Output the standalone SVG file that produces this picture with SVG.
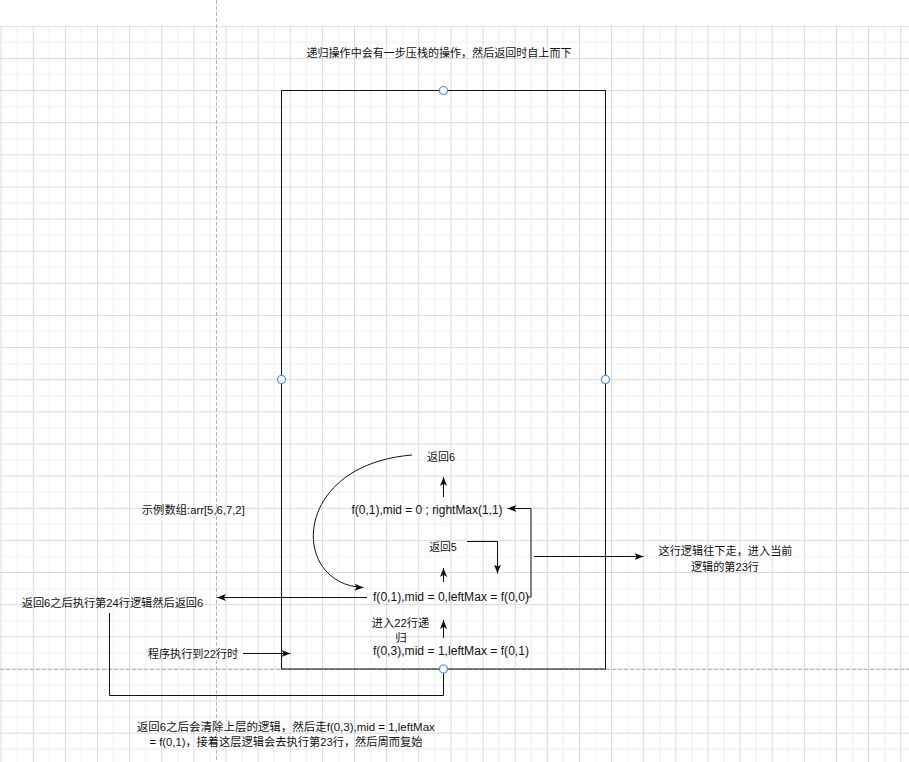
<svg xmlns="http://www.w3.org/2000/svg" width="909" height="762" viewBox="0 0 909 762">
<style>
text{font-family:"Liberation Sans","Noto Sans CJK SC",sans-serif;font-size:11.5px;fill:#111;dominant-baseline:central;text-anchor:middle}
.f{font-size:12px}
.ln{fill:none;stroke:#111;stroke-width:1}
.arr{marker-end:url(#ah)}
.hd{fill:#fff;stroke:#3d8ee8;stroke-width:1.2}
.dash{stroke:#b5b5b5;stroke-width:1;stroke-dasharray:4 2;fill:none}
</style>
<defs>
<pattern id="grid" patternUnits="userSpaceOnUse" x="0.6" y="25.8" width="32.13" height="32.13">
<rect x="16.06" y="0" width="1" height="32.13" fill="#eeeeee"/>
<rect x="0" y="16.06" width="32.13" height="1" fill="#eeeeee"/>
<rect x="0" y="0" width="1" height="32.13" fill="#dadada"/>
<rect x="0" y="0" width="32.13" height="1" fill="#dadada"/>
</pattern>
<marker id="ah" viewBox="0 0 9 7" refX="9" refY="3.5" markerWidth="9" markerHeight="7" markerUnits="userSpaceOnUse" orient="auto">
<path d="M0,0 L9,3.5 L0,7 L2.2,3.5 Z" fill="#111"/>
</marker>
</defs>
<rect x="0" y="0" width="909" height="762" fill="#fff"/>
<rect x="0" y="26" width="909" height="736" fill="url(#grid)"/>
<line class="dash" x1="216.5" y1="0" x2="216.5" y2="762"/>
<line class="dash" x1="0" y1="669.5" x2="909" y2="669.5"/>

<g id="connectors">
<path class="ln arr" d="M443.5,497 L443.5,477"/>
<path class="ln arr" d="M527,597 L531,597 L531,508.5 L507.5,508.5"/>
<path class="ln arr" d="M467,541.5 L497.5,541.5 L497.5,573.5"/>
<path class="ln arr" d="M443.5,582 L443.5,568"/>
<path class="ln arr" d="M412,455 C290,465 290,585 363.5,587.5"/>
<path class="ln arr" d="M367,597.5 L217,597.5"/>
<path class="ln arr" d="M443.5,638 L443.5,620"/>
<path class="ln arr" d="M243,653.5 L290.5,653.5"/>
<path class="ln" d="M443.5,669 L443.5,695.5 L109.5,695.5 L109.5,613"/>
<path class="ln arr" d="M534,556.5 L643.5,556.5"/>
</g>

<g id="stack-box">
<rect x="281.5" y="90.5" width="324" height="578.5" fill="none" stroke="#111" stroke-width="1"/>
<circle class="hd" cx="443.5" cy="90.5" r="4"/>
<circle class="hd" cx="281.5" cy="379.5" r="4"/>
<circle class="hd" cx="605.5" cy="379.5" r="4"/>
<circle class="hd" cx="443.5" cy="669" r="4"/>
</g>

<g id="title"><text x="439" y="53" textLength="265" lengthAdjust="spacingAndGlyphs">递归操作中会有一步压栈的操作，然后返回时自上而下</text></g>
<g id="ret6"><text x="441" y="457" textLength="28" lengthAdjust="spacingAndGlyphs">返回6</text></g>
<g id="f01-right"><text class="f" x="427" y="510" textLength="151" lengthAdjust="spacingAndGlyphs">f(0,1),mid = 0 ; rightMax(1,1)</text></g>
<g id="ret5"><text x="443" y="546.5" textLength="27.5" lengthAdjust="spacingAndGlyphs">返回5</text></g>
<g id="f01-left"><text class="f" x="451" y="597" textLength="156" lengthAdjust="spacingAndGlyphs">f(0,1),mid = 0,leftMax = f(0,0)</text></g>
<g id="enter22"><text x="400.5" y="622.5" textLength="57.5" lengthAdjust="spacingAndGlyphs">进入22行递</text><text x="401" y="637.5">归</text></g>
<g id="f03"><text class="f" x="451" y="650.5" textLength="156" lengthAdjust="spacingAndGlyphs">f(0,3),mid = 1,leftMax = f(0,1)</text></g>
<g id="example"><text x="193.3" y="510" textLength="103" lengthAdjust="spacingAndGlyphs">示例数组:arr[5,6,7,2]</text></g>
<g id="after6"><text x="112.5" y="603" textLength="181.5" lengthAdjust="spacingAndGlyphs">返回6之后执行第24行逻辑然后返回6</text></g>
<g id="run22"><text x="193" y="653.5" textLength="90.5" lengthAdjust="spacingAndGlyphs">程序执行到22行时</text></g>
<g id="down-note"><text x="725.5" y="550.5" textLength="134" lengthAdjust="spacingAndGlyphs">这行逻辑往下走，进入当前</text><text x="725" y="566.5" textLength="68" lengthAdjust="spacingAndGlyphs">逻辑的第23行</text></g>
<g id="bottom-note"><text x="285.8" y="726.5" textLength="298" lengthAdjust="spacingAndGlyphs">返回6之后会清除上层的逻辑，然后走f(0,3),mid = 1,leftMax</text><text x="286" y="742" textLength="273" lengthAdjust="spacingAndGlyphs">= f(0,1)，接着这层逻辑会去执行第23行，然后周而复始</text></g>
</svg>
